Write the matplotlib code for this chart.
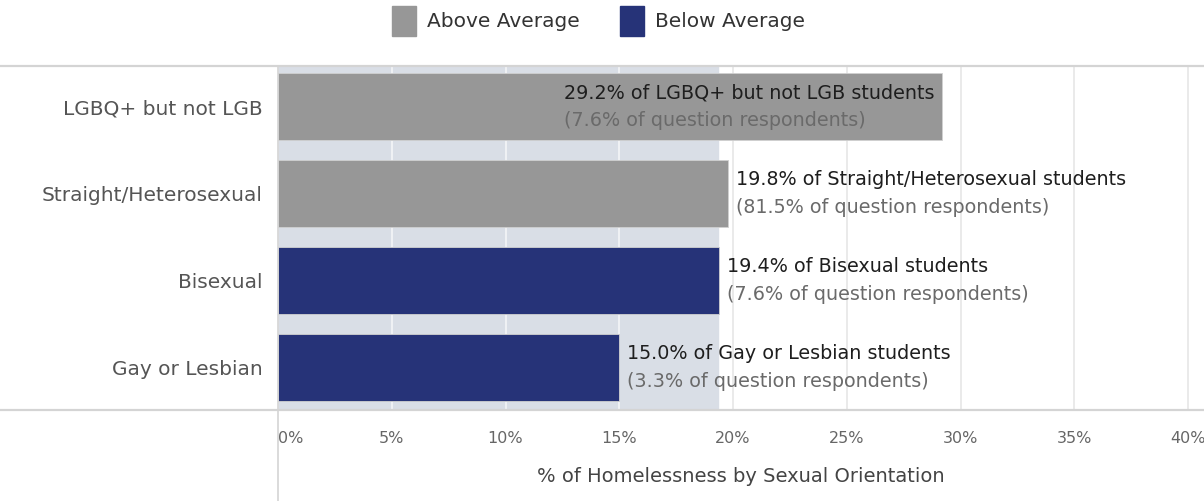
import matplotlib.pyplot as plt
from matplotlib.patches import Patch
from matplotlib.lines import Line2D

# Datos
categorias = ['LGBQ+ but not LGB', 'Straight/Heterosexual', 'Bisexual', 'Gay or Lesbian']
porcentajes = [29.2, 19.8, 19.4, 15.0]
respondentes = [7.6, 81.5, 7.6, 3.3]
grupo = ['Above Average', 'Above Average', 'Below Average', 'Below Average']
promedio = 19.35
ticks = [0, 5, 10, 15, 20, 25, 30, 35, 40]

paleta = {'Above Average': '#979797', 'Below Average': '#263378'}
colores = [paleta[g] for g in grupo]

plt.rcParams['font.family'] = ['DejaVu Sans']

fig = plt.figure(figsize=(12.04, 5.01), dpi=100)
ax = fig.add_axes([278 / 1204, 1 - 410 / 501, 1 - 278 / 1204, 344 / 501])

# Banda del promedio
ax.axvspan(0, promedio, color='#d9dee6', zorder=0)
for t in ticks:
    c = '#f4f6f8' if t < promedio else '#e6e6e6'
    ax.axvline(t, color=c, linewidth=1.2, zorder=1)

y = range(len(categorias))
ax.barh(y, porcentajes, height=0.77, color=colores, edgecolor='#d0d0d0',
        linewidth=0.6, zorder=2)

for i, (p, r, cat) in enumerate(zip(porcentajes, respondentes, categorias)):
    if p > 25:
        ha, dx = 'right', -8
    else:
        ha, dx = 'left', 8
    t1 = ax.annotate(f'{p:.1f}% of {cat} students', (p, i), xytext=(dx, 14),
                     textcoords='offset pixels', ha=ha, va='center',
                     fontsize=13.8, color='#1e1e1e', zorder=3)
    ax.annotate(f'({r}% of question respondents)', xy=(0, 0), xycoords=t1,
                xytext=(0, -28), textcoords='offset pixels', ha='left', va='bottom',
                fontsize=13.8, color='#6a6a6a', zorder=3)

ax.set_xlim(0, 40.7)
ax.set_ylim(3.49, -0.47)
ax.set_yticks(list(y))
ax.set_yticklabels(categorias, fontsize=14.5, color='#555555')
ax.set_xticks(ticks)
ax.set_xticklabels([f'{t}%' for t in ticks], fontsize=11.5, color='#666666')
ax.get_xticklabels()[0].set_horizontalalignment('left')
ax.tick_params(axis='x', length=0, pad=15)
ax.tick_params(axis='y', length=0, pad=11)
for s in ax.spines.values():
    s.set_visible(False)
ax.set_xlabel('% of Homelessness by Sexual Orientation', fontsize=14,
              color='#444444', labelpad=15)

# Lineas del marco
fig.add_artist(Line2D([0, 1], [1 - 66 / 501] * 2, color='#d4d4d4', linewidth=1.6))
fig.add_artist(Line2D([0, 1], [1 - 410 / 501] * 2, color='#d4d4d4', linewidth=1.6))
fig.add_artist(Line2D([278 / 1204] * 2, [0, 1 - 66 / 501], color='#d4d4d4', linewidth=1.2))

# Leyenda
handles = [Patch(color=c, label=g) for g, c in paleta.items()]
fig.legend(handles=handles, loc='center', bbox_to_anchor=(0.497, 1 - 21 / 501),
           ncol=2, frameon=False, fontsize=14.5, handlelength=1.2, handleheight=1.9,
           handletextpad=0.55, columnspacing=2.0, labelcolor='#333333')

fig.savefig('out.png', dpi=100)
